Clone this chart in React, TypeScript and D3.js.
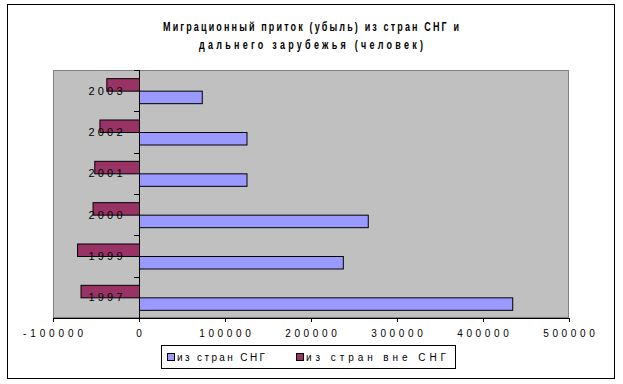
import React from "react";
import * as d3 from "d3";

const categories = ["2003", "2002", "2001", "2000", "1999", "1997"];
const cisValues = [73000, 125000, 125000, 266000, 237000, 434000];
const nonCisValues = [-38000, -46000, -52000, -54000, -72000, -68000];
const seriesNames = ["из стран СНГ", "из стран вне СНГ"];
const xTicks = [-100000, 0, 100000, 200000, 300000, 400000, 500000];
const titleLines = ["Миграционный приток (убыль) из стран СНГ и", "дальнего зарубежья (человек)"];

const W = 623, H = 384;
const plot = { left: 53, right: 569, top: 70, bottom: 318 };
const FONT = "'Liberation Sans', Arial, sans-serif";
const SQ = 0.72;

export default function App() {
  const x = d3.scaleLinear().domain([-100000, 500000]).range([plot.left, plot.right]);
  const y = d3.scaleBand<string>().domain(categories).range([plot.top, plot.bottom]).paddingInner(0).paddingOuter(0);
  const groupPad = 0.395;
  const inner = d3.scaleBand<string>().domain(["non", "cis"]).range([y.bandwidth() * groupPad / 2, y.bandwidth() * (1 - groupPad / 2)]);
  const x0 = x(0);

  return (
    <svg width={W} height={H} style={{ position: "absolute", left: 0, top: 0, background: "#fff" }}>
      <rect x={7.5} y={4.5} width={607} height={374} fill="#fff" stroke="#000" strokeWidth={1} />
      {titleLines.map((t, i) => (
        <g key={i} transform={`translate(311,${31 + i * 17.5}) scale(${SQ},1)`}>
          <text x={0} y={0} textAnchor="middle" fontFamily={FONT} fontSize={12.5} fontWeight="bold"
            textLength={(i === 0 ? 296 : 224) / SQ} lengthAdjust="spacing" fill="#000">{t}</text>
        </g>
      ))}
      <rect x={plot.left + 0.5} y={plot.top + 0.5} width={plot.right - plot.left - 1} height={plot.bottom - plot.top - 1} fill="#C0C0C0" stroke="#808080" strokeWidth={1} />
      {categories.map((c, i) => {
        const by = y(c)!;
        const vCis = cisValues[i];
        const vNon = nonCisValues[i];
        return (
          <g key={c}>
            <rect x={Math.min(x(vNon), x0) + 0.5} y={by + inner("non")! + 0.5} width={Math.abs(x(vNon) - x0)} height={inner.bandwidth()} fill="#993366" stroke="#000" strokeWidth={1} />
            <rect x={Math.min(x(vCis), x0) + 0.5} y={by + inner("cis")! + 0.5} width={Math.abs(x(vCis) - x0)} height={inner.bandwidth()} fill="#9999FF" stroke="#000" strokeWidth={1} />
          </g>
        );
      })}
      <line x1={x0 + 0.5} x2={x0 + 0.5} y1={plot.top} y2={plot.bottom} stroke="#000" strokeWidth={1} />
      {categories.map((c, i) => (
        <line key={"yt" + i} x1={x0 - 5} x2={x0} y1={Math.round(y(c)!) + 0.5} y2={Math.round(y(c)!) + 0.5} stroke="#000" strokeWidth={1} />
      ))}
      <line x1={x0 - 5} x2={x0} y1={plot.bottom + 0.5} y2={plot.bottom + 0.5} stroke="#000" strokeWidth={1} />
      {categories.map((c) => (
        <text key={"yl" + c} x={122.5} y={y(c)! + y.bandwidth() / 2 + 4} textAnchor="end" fontFamily={FONT} fontSize={11}
          textLength={34} lengthAdjust="spacing" fill="#000">{c}</text>
      ))}
      <line x1={plot.left} x2={plot.right} y1={plot.bottom + 0.5} y2={plot.bottom + 0.5} stroke="#000" strokeWidth={1} />
      {xTicks.map((t) => (
        <g key={"xt" + t}>
          <line x1={Math.round(x(t)) + 0.5} x2={Math.round(x(t)) + 0.5} y1={plot.bottom} y2={plot.bottom + 4} stroke="#000" strokeWidth={1} />
          <text x={x(t)} y={337} textAnchor="middle" fontFamily={FONT} fontSize={10}
            textLength={String(t).length * 8.6} lengthAdjust="spacing" fill="#000">{String(t)}</text>
        </g>
      ))}
      <rect x={161.5} y={345.5} width={294} height={23} fill="#fff" stroke="#000" strokeWidth={1} />
      <rect x={167.5} y={353.5} width={7} height={7} fill="#9999FF" stroke="#000" strokeWidth={1} />
      <text x={177} y={361} fontFamily={FONT} fontSize={10} textLength={88} lengthAdjust="spacing" fill="#000">{seriesNames[0]}</text>
      <rect x={296.5} y={353.5} width={7} height={7} fill="#993366" stroke="#000" strokeWidth={1} />
      <text x={306} y={361} fontFamily={FONT} fontSize={10} textLength={140} lengthAdjust="spacing" fill="#000">{seriesNames[1]}</text>
    </svg>
  );
}
